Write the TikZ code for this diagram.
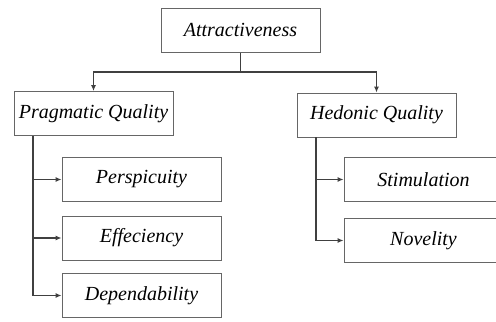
\documentclass[tikz,border=0pt]{standalone}
\usepackage{fontspec}
\setmainfont{Liberation Serif}
\usetikzlibrary{arrows.meta}
\begin{document}
\begin{tikzpicture}[x=0.5pt,y=-0.5pt,
    box/.style={draw=black!60, line width=0.5pt, fill=white, minimum width=79.5pt, minimum height=22pt,
                inner sep=0pt, font=\fontsize{10}{12}\selectfont\itshape},
    link/.style={draw=black!75, line width=0.6pt, -{Latex[length=3pt,width=2.6pt]}}]
    \useasboundingbox (0,0) rectangle (496,321);
    \node[box] (attr) at (240.5,30) {Attractiveness};
    \node[box] (prag) at (93.5,113.5) {Pragmatic Quality};
    \node[box] (hed) at (376.5,115) {Hedonic Quality};
    \node[box] (persp) at (141.5,179.5) {Perspicuity};
    \node[box] (effic) at (141.5,238) {Effeciency};
    \node[box] (depend) at (141.5,295.5) {Dependability};
    \node[box] (stim) at (423.5,179.5) {Stimulation};
    \node[box] (novel) at (423.5,240.5) {Novelity};
    \coordinate (split) at (240.5,72);
    \coordinate (pragtrunk) at (33,136);
    \coordinate (hedtrunk) at (316,137);
    \draw[link] (attr.south) -- (split) -| (prag.north);
    \draw[link] (split) -| (hed.north);
    \draw[link] (pragtrunk) |- (persp.west);
    \draw[link] (pragtrunk) |- (effic.west);
    \draw[link] (pragtrunk) |- (depend.west);
    \draw[link] (hedtrunk) |- (stim.west);
    \draw[link] (hedtrunk) |- (novel.west);
\end{tikzpicture}
\end{document}
